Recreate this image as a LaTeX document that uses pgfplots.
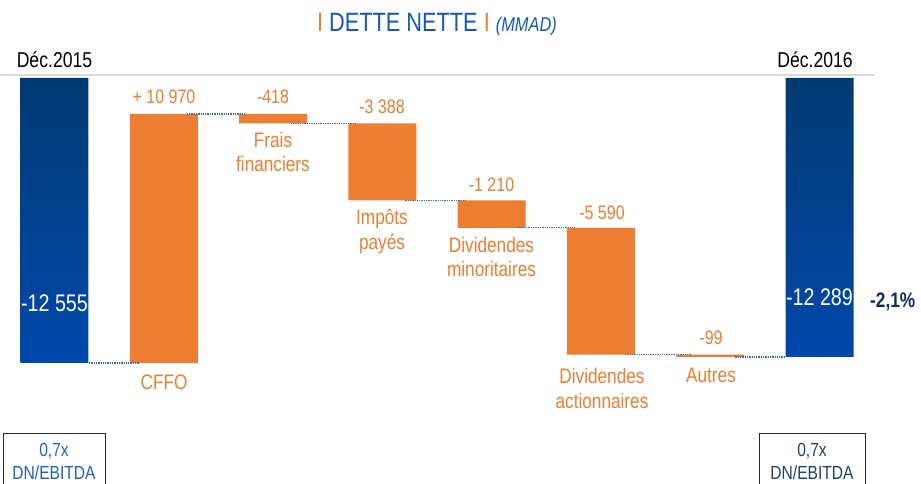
\documentclass[border=0pt]{standalone}
\usepackage{pgfplots}
\pgfplotsset{compat=1.18}
\usepackage{fontspec}
\setmainfont{Liberation Sans}[FakeStretch=0.82]
\definecolor{orng}{HTML}{ED7D31}
\definecolor{navytop}{HTML}{023A72}
\definecolor{bluebot}{HTML}{0048AC}
\definecolor{ttlblue}{HTML}{1456C0}
\definecolor{dotblue}{HTML}{3A6CC8}
\definecolor{navytxt}{HTML}{0E2A5E}
\definecolor{boxnavy}{HTML}{1F3F70}
\definecolor{boxblue}{HTML}{2060C0}
\begin{document}
\begin{tikzpicture}
\pgfplotsset{base/.style={scale only axis, width=921pt, height=484pt,
  xmin=-0.4986, xmax=7.9277, ymin=-5330, ymax=15990, hide axis, clip=false},
  conn/.style={densely dotted, color=dotblue, line width=1.3pt, mark=none}}
\begin{axis}[base, ybar stacked, bar width=0.622]
% invisible base
\addplot[draw=none, fill=none] coordinates {(0,0) (1,0) (2,10552) (3,7164) (4,5954) (5,364) (6,265) (7,265)};
% orange movements
\addplot[draw=none, fill=orng] coordinates {(0,0) (1,10970) (2,418) (3,3388) (4,1210) (5,5590) (6,99) (7,0)};
% blue totals
\addplot[draw=none, top color=navytop, bottom color=bluebot] coordinates {(0,12555) (1,0) (2,0) (3,0) (4,0) (5,0) (6,0) (7,12290)};
\coordinate (NW) at (rel axis cs:0,1);
\coordinate (SW) at (rel axis cs:0,0);
\coordinate (NE) at (rel axis cs:1,1);
\end{axis}
\begin{axis}[base]
\addplot[conn] coordinates {(0.316,0) (0.775,0)};
\addplot[conn] coordinates {(1.21,10970) (1.74,10970)};
\addplot[conn] coordinates {(2.16,10552) (2.76,10552)};
\addplot[conn] coordinates {(3.21,7164) (3.76,7164)};
\addplot[conn] coordinates {(4.21,5954) (4.76,5954)};
\addplot[conn] coordinates {(5.22,364) (5.82,364)};
\addplot[conn] coordinates {(6.23,265) (6.69,265)};
\end{axis}
\begin{scope}[shift={(NW)}, x=1pt, y=-1pt]
% title
\node[anchor=base] at (437,32) {\fontsize{26.5}{30}\selectfont\color{orng}I \color{ttlblue}DETTE NETTE \color{orng}I \color{ttlblue}{\fontsize{20}{24}\selectfont\itshape (MMAD)}};
% top line and period labels
\draw[color=black!15, line width=2pt] (0,75.5) -- (875,75.5);
\node[anchor=base, font=\fontsize{21.5}{24}\selectfont] at (54.5,68) {Déc.2015};
\node[anchor=base, font=\fontsize{21.5}{24}\selectfont] at (815,68) {Déc.2016};
% value labels
\begin{scope}[every node/.style={anchor=base, text=orng, font=\fontsize{19.5}{24}\selectfont}]
\node at (164,104) {+ 10 970};
\node at (273,104) {-418};
\node at (382,114) {-3 388};
\node at (491.5,192) {-1 210};
\node at (602,220) {-5 590};
\node at (711,345) {-99};
\end{scope}
% category labels
\begin{scope}[every node/.style={anchor=base, text=orng, font=\fontsize{21}{24.5}\selectfont}]
\node at (164,390) {CFFO};
\node at (273,148) {Frais};
\node at (273,172) {financiers};
\node at (382,225) {Impôts};
\node at (382,250) {payés};
\node at (491.5,253) {Dividendes};
\node at (491.5,277) {minoritaires};
\node at (602,384) {Dividendes};
\node at (602,409) {actionnaires};
\node at (711,383) {Autres};
\end{scope}
% total values
\node[anchor=base, text=white, font=\fontsize{24}{28}\selectfont] at (54.5,312) {-12 555};
\node[anchor=base, text=white, font=\fontsize{24}{28}\selectfont] at (819.5,306) {-12 289};
\node[anchor=base west, text=navytxt, font=\fontsize{21}{24}\selectfont\bfseries, inner sep=0pt] at (870,308) {-2,1\%};
% bottom boxes
\draw[color=black!85, line width=0.9pt] (3,490) -- (3,433) -- (105,433) -- (105,490);
\draw[color=black!85, line width=0.9pt] (759,490) -- (759,433) -- (865,433) -- (865,490);
\node[anchor=base, text=boxblue, font=\fontsize{19}{24}\selectfont] at (54,456) {0,7x};
\node[anchor=base, text=boxblue, font=\fontsize{19}{24}\selectfont] at (54,479) {DN/EBITDA};
\node[anchor=base, text=boxnavy, font=\fontsize{19}{24}\selectfont] at (812,456) {0,7x};
\node[anchor=base, text=boxnavy, font=\fontsize{19}{24}\selectfont] at (812,479) {DN/EBITDA};
\end{scope}
\pgfresetboundingbox
\useasboundingbox (SW) rectangle (NE);
\end{tikzpicture}
\end{document}
